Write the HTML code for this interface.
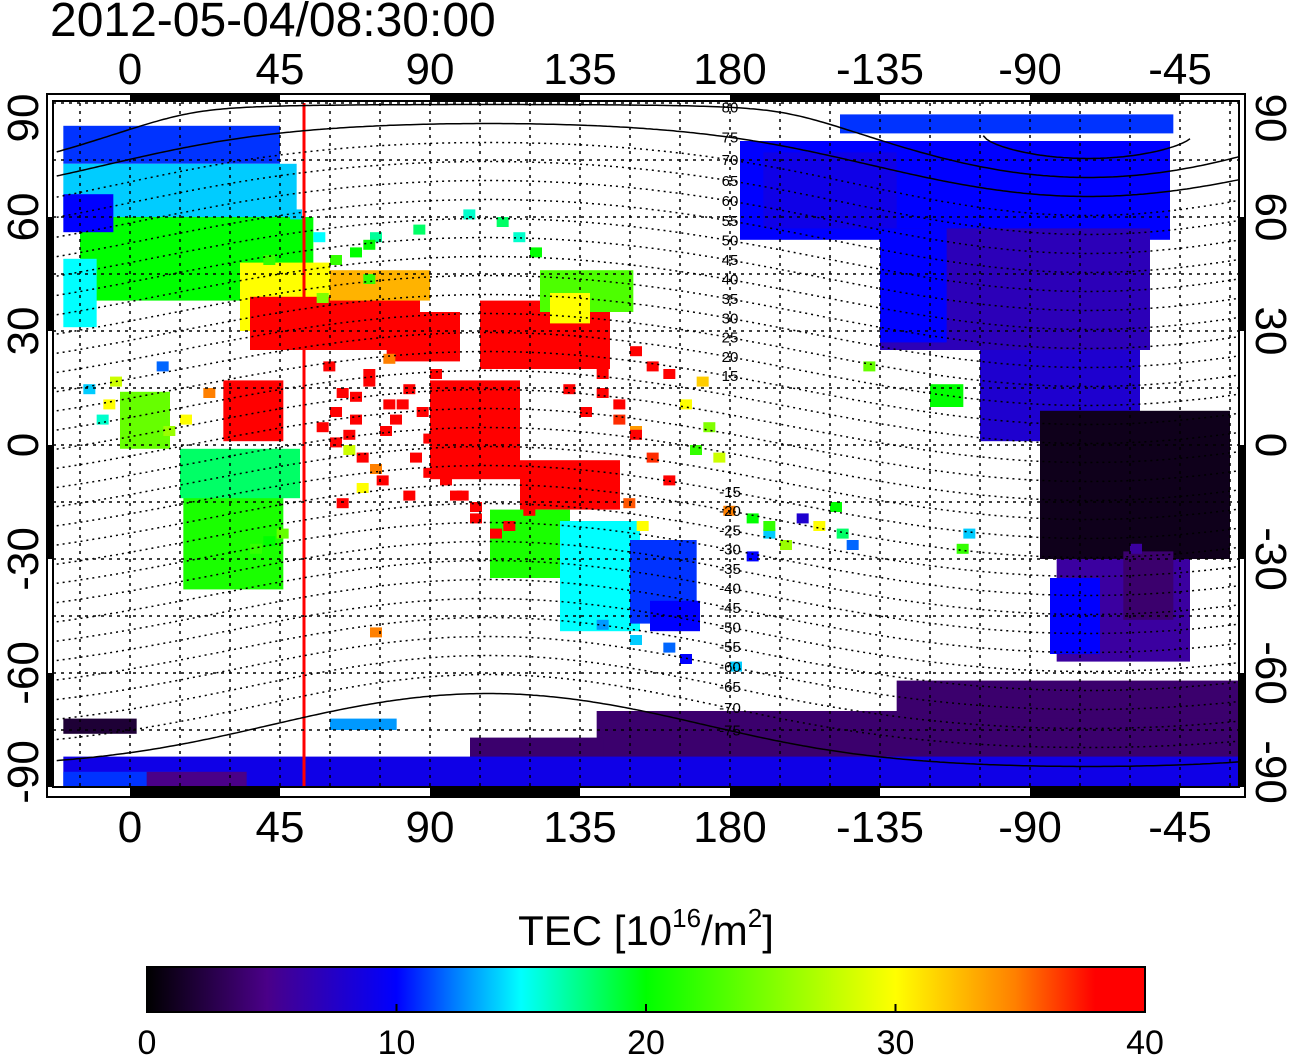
<!DOCTYPE html>
<html><head><meta charset="utf-8"><style>
html,body{margin:0;padding:0;background:#fff;}
svg{display:block;font-family:"Liberation Sans",sans-serif;}
</style></head><body>
<svg id="chart" width="1292" height="1057" viewBox="0 0 1292 1057">
<defs>
<clipPath id="plotclip"><rect x="53" y="101" width="1186" height="686"/></clipPath>
<linearGradient id="cbar" x1="0" x2="1" y1="0" y2="0">
<stop offset="0" stop-color="#000000"/><stop offset="0.12" stop-color="#4a0088"/><stop offset="0.25" stop-color="#0000ff"/>
<stop offset="0.31" stop-color="#0080ff"/><stop offset="0.375" stop-color="#00ffff"/><stop offset="0.5" stop-color="#00ff00"/>
<stop offset="0.75" stop-color="#ffff00"/><stop offset="0.87" stop-color="#ff8000"/><stop offset="0.95" stop-color="#ff0000"/><stop offset="1" stop-color="#ff0000"/>
</linearGradient>
</defs>
<text x="50" y="36" font-size="48">2012-05-04/08:30:00</text>
<g id="data" clip-path="url(#plotclip)"></g>
<g id="grid" clip-path="url(#plotclip)"></g>
<g id="contours" clip-path="url(#plotclip)"></g>
<g id="frame"></g>
<g id="axes"></g>
<text x="646" y="945" font-size="42" text-anchor="middle">TEC  [10<tspan font-size="26" dy="-18">16</tspan><tspan dy="18">/m</tspan><tspan font-size="26" dy="-18">2</tspan><tspan dy="18">]</tspan></text>
<rect x="147" y="967" width="998" height="45" fill="url(#cbar)" stroke="#000" stroke-width="2"/>
<g id="cbticks"></g>
</svg>
<script>
const lonTicks=[0,45,90,135,180,225,270,315];
const lonTickLabels=["0","45","90","135","180","-135","-90","-45"];
const latTicks=[90,60,30,0,-30,-60,-90];
const cbTicks=[0,10,20,30,40];
const contourLevels=[-75,-70,-65,-60,-55,-50,-45,-40,-35,-30,-25,-20,-15,-10,-5,0,5,10,15,20,25,30,35,40,45,50,55,60,65,70,75,80,85];
// patches: lon, lat(top), width deg, height deg, TEC
const patchLon=[-20,-20,-15,-20,33,36,60,28,-3,16,15,77,105,123,126,90,117,108,129,150,156,183,213,225,225,255,273,278,276,140,102,230,-20,-20,190,60,-20,5,240,298,-20];
const patchLat=[84,74,60,49,48,39,46,17,14,-12,-1,35,38,46,40,17,-4,-17,-20,-25,-41,80,87,57,57,25,9,-30,-35,-70,-77,-62,-82,-72,77,-72,-86,-86,16,-28,66];
const patchW=[65,70,70,10,27,51,30,18,15,30,36,22,39,28,12,27,30,24,24,20,15,129,100,81,20,48,57,40,15,193,40,103,353,22,40,20,40,30,10,15,15];
const patchH=[10,14,22,18,18,14,8,16,15,26,13,13,18,11,8,26,13,18,29,22,8,26,5,32,30,24,39,27,20,16,9,10,8,4,20,3,4,4,6,18,10];
const patchTec=[11,14,20,15,30,39,33,38,24,21,18,40,40,23,30,40,38,21,15,11,10,10,11,7,10,8,1,6,10,4,4,4,9,2,9,13,11,5,20,4,10];
// scattered measurement squares: lon, lat, TEC
const dotLon=[58,62,66,70,75,80,84,72,68,64,88,93,98,102,90,80,76,70,66,72,60,56,110,115,120,150,155,160,140,145,150,165,170,172,168,175,160,178,200,205,210,212,195,190,185,215,220,100,85,70,55,48,40,22,30,15,10,8,-6,-8,72,140,150,160,165,180,185,190,250,248,300,
60,64,68,74,78,82,86,62,66,70,76,82,88,56,60,130,135,140,145,150,155,130,136,142,148,152,118,112,108,102,96,40,36,44,-14,-10];
const dotLat=[22,15,8,18,5,12,-2,-5,-10,0,3,-8,-12,-15,20,28,24,45,52,56,50,40,60,56,52,26,22,20,15,8,5,12,18,6,0,-2,-8,-16,-18,-20,-15,-22,-25,-22,-28,-25,22,62,58,54,56,62,50,15,12,8,5,22,18,12,-48,-46,-50,-52,-55,-57,-18,-20,-22,-26,-26,
10,4,-2,-8,8,16,10,-14,14,20,12,-12,-6,6,2,16,10,20,12,4,-2,-10,-14,-8,-14,-20,-16,-20,-22,-18,-12,-24,-26,-22,16,8];
const dotTec=[40,40,40,39,38,40,39,35,30,28,40,40,40,40,40,38,35,22,20,17,22,25,18,16,20,40,40,38,40,37,34,30,32,25,22,28,40,35,8,30,20,18,26,14,10,12,24,16,18,20,15,14,22,35,38,30,26,12,28,30,35,13,14,12,10,14,20,22,14,22,6,
40,40,39,40,40,40,40,40,40,40,40,40,40,38,40,40,40,40,40,39,37,40,40,38,36,30,40,40,40,40,40,20,22,24,14,16];

const X=lon=>130+lon*10/3;
const Y=lat=>445-lat*3.8;
const NS='http://www.w3.org/2000/svg';
function mk(tag,attrs,parent){const e=document.createElementNS(NS,tag);for(const k in attrs)e.setAttribute(k,attrs[k]);parent.appendChild(e);return e;}
const cstops=[[0,[0,0,0]],[5,[74,0,136]],[10,[0,0,255]],[12.5,[0,128,255]],[15,[0,255,255]],[20,[0,255,0]],[30,[255,255,0]],[35,[255,128,0]],[38,[255,0,0]],[40,[255,0,0]]];
function cmap(v){for(let i=1;i<cstops.length;i++){if(v<=cstops[i][0]){const a=cstops[i-1],b=cstops[i];const t=(v-a[0])/(b[0]-a[0]);return 'rgb('+a[1].map((c,j)=>Math.round(c+(b[1][j]-c)*t)).join(',')+')';}}return 'rgb(255,0,0)';}

const dataG=document.getElementById('data');
for(let i=0;i<patchLon.length;i++){
  const r=mk('rect',{x:X(patchLon[i]),y:Y(patchLat[i]),width:patchW[i]*10/3,height:patchH[i]*3.8,fill:cmap(patchTec[i])},dataG);
  
  
}
for(let i=0;i<dotLon.length;i++){
  const r=mk('rect',{x:X(dotLon[i]),y:Y(dotLat[i]),width:12,height:10,fill:cmap(dotTec[i])},dataG);
  
  
}
const rl=mk('line',{x1:X(52.2),x2:X(52.2),y1:103,y2:787,stroke:'#ff0000','stroke-width':3},dataG);



const gridG=document.getElementById('grid');
for(let lon=-15;lon<=330;lon+=15){
  const l=mk('line',{x1:X(lon),x2:X(lon),y1:103,y2:787,stroke:'#000','stroke-width':1.5,'stroke-dasharray':'3,5'},gridG);
  
  
}
for(let lat=-75;lat<=90;lat+=15){
  const l=mk('line',{x1:53,x2:1239,y1:Y(lat),y2:Y(lat),stroke:'#000','stroke-width':1.5,'stroke-dasharray':'3,5'},gridG);
  
  
}
const cg=document.getElementById('contours');
const pLat=80.4*Math.PI/180,pLon=-72.6;
function geoLat(m,lon){const A=Math.sin(pLat),B=Math.cos(pLat)*Math.cos((lon-pLon)*Math.PI/180);const R=Math.hypot(A,B);const s=Math.sin(m*Math.PI/180)/R;if(Math.abs(s)>1)return null;return (Math.asin(s)-Math.atan2(B,A))*180/Math.PI;}
contourLevels.forEach(m=>{
  let pts=[];const segs=[];
  for(let lon=-22;lon<=336;lon+=1){const la=geoLat(m,lon);if(la===null||la<-90||la>90){if(pts.length)segs.push(pts);pts=[];continue;}pts.push(X(lon).toFixed(1)+','+Y(la).toFixed(1));}
  if(pts.length)segs.push(pts);
  segs.forEach(s=>{const p=mk('polyline',{points:s.join(' '),fill:'none',stroke:'#000','stroke-width':1.5,'stroke-dasharray':Math.abs(m)>=75?'none':'2,4'},cg);
    
    });
  if(Math.abs(m)>=15&&m<=80){const la=geoLat(m,180);if(la!==null){const t=mk('text',{x:X(180),y:Y(la)+5,'font-size':15,'text-anchor':'middle'},cg);t.textContent=String(m);
    
    }}
});

const fr=document.getElementById('frame');
mk('rect',{x:47,y:94,width:1198,height:703,fill:'none',stroke:'#000','stroke-width':2},fr);
mk('rect',{x:53,y:101,width:1186,height:686,fill:'none',stroke:'#000','stroke-width':2},fr);
[0,90,180,270].forEach(l=>{
  mk('rect',{x:X(l),y:94,width:150,height:6,fill:'#000'},fr);
  mk('rect',{x:X(l),y:788,width:Math.min(150,1245-X(l)),height:8,fill:'#000'},fr);
});
[[60,30],[0,-30],[-60,-90]].forEach(([a,b])=>{
  mk('rect',{x:47,y:Y(a),width:6,height:Y(b)-Y(a),fill:'#000'},fr);
  mk('rect',{x:1239,y:Y(a),width:6,height:Y(b)-Y(a),fill:'#000'},fr);
});
const ax=document.getElementById('axes');
lonTicks.forEach((l,i)=>{
  const t1=mk('text',{x:X(l),y:84,'font-size':44,'text-anchor':'middle'},ax);t1.textContent=lonTickLabels[i];
  
  
  const t2=mk('text',{x:X(l),y:842,'font-size':44,'text-anchor':'middle'},ax);t2.textContent=lonTickLabels[i];
  
  
});
latTicks.forEach(l=>{
  const y=Math.min(Math.max(Y(l),118),772);
  const t1=mk('text',{x:0,y:0,'font-size':44,'text-anchor':'middle',transform:'translate(38,'+y+') rotate(-90)'},ax);t1.textContent=String(l);
  
  
  const t2=mk('text',{x:0,y:0,'font-size':44,'text-anchor':'middle',transform:'translate(1256,'+y+') rotate(90)'},ax);t2.textContent=String(l);
  
  
});
const cbt=document.getElementById('cbticks');
cbTicks.forEach(v=>{
  const x=147+v/40*998;
  mk('line',{x1:x,x2:x,y1:1004,y2:1012,stroke:'#000','stroke-width':2},cbt);
  const t=mk('text',{x:x,y:1054,'font-size':34,'text-anchor':'middle'},cbt);t.textContent=String(v);
  
  
});
</script>
</body></html>
